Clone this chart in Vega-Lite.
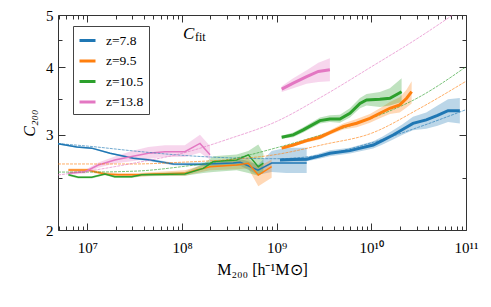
{
  "$schema": "https://vega.github.io/schema/vega-lite/v6.json",
  "width": 408,
  "height": 215,
  "autosize": {"type": "none"},
  "padding": {"left": 58, "top": 15, "right": 25, "bottom": 77},
  "background": "white",
  "config": {
    "view": {"stroke": null},
    "font": "Liberation Serif",
    "axis": {"grid": false, "domainColor": "#333", "domainWidth": 1, "tickColor": "#333", "tickWidth": 1,
      "labelFont": "Liberation Serif", "labelFontSize": 15, "labelColor": "#000",
      "titleFont": "Liberation Serif", "titleFontSize": 16, "titleFontWeight": "normal", "titleColor": "#000",
      "labelFlush": false, "labelOverlap": false, "labelBound": false}
  },
  "resolve": {"axis": {"x": "independent", "y": "independent"}},
  "datasets": {
    "curves": [
      {"z":"z=7.8","s":"thin","M":4.90e6,"C":2.89,"lo":2.88,"hi":2.90},
      {"z":"z=7.8","s":"thin","M":7.73e6,"C":2.85,"lo":2.84,"hi":2.86},
      {"z":"z=7.8","s":"thin","M":1.112e7,"C":2.835,"lo":2.825,"hi":2.845},
      {"z":"z=7.8","s":"thin","M":1.738e7,"C":2.774,"lo":2.764,"hi":2.784},
      {"z":"z=7.8","s":"thin","M":3.062e7,"C":2.716,"lo":2.704,"hi":2.728},
      {"z":"z=7.8","s":"thin","M":4.592e7,"C":2.696,"lo":2.681,"hi":2.711},
      {"z":"z=7.8","s":"thin","M":8.091e7,"C":2.65,"lo":2.635,"hi":2.665},
      {"z":"z=7.8","s":"thin","M":1.549e8,"C":2.648,"lo":2.628,"hi":2.668},
      {"z":"z=7.8","s":"thin","M":3.467e8,"C":2.66,"lo":2.63,"hi":2.69},
      {"z":"z=7.8","s":"thin","M":4.121e8,"C":2.67,"lo":2.63,"hi":2.71},
      {"z":"z=7.8","s":"thin","M":6.353e8,"C":2.582,"lo":2.53,"hi":2.64},
      {"z":"z=7.8","s":"thin","M":8.851e8,"C":2.66,"lo":2.56,"hi":2.80},
      {"z":"z=7.8","s":"thin","M":1.259e9,"C":2.66,"lo":2.55,"hi":2.84},
      {"z":"z=7.8","s":"thin","M":2.075e9,"C":2.66,"lo":2.55,"hi":2.84},
      {"z":"z=7.8","s":"thick","M":1.084e9,"C":2.696,"lo":2.68,"hi":2.71},
      {"z":"z=7.8","s":"thick","M":1.496e9,"C":2.70,"lo":2.68,"hi":2.72},
      {"z":"z=7.8","s":"thick","M":2.075e9,"C":2.704,"lo":2.68,"hi":2.73},
      {"z":"z=7.8","s":"thick","M":2.818e9,"C":2.74,"lo":2.71,"hi":2.77},
      {"z":"z=7.8","s":"thick","M":3.65e9,"C":2.774,"lo":2.74,"hi":2.81},
      {"z":"z=7.8","s":"thick","M":5.94e9,"C":2.805,"lo":2.77,"hi":2.84},
      {"z":"z=7.8","s":"thick","M":1.047e10,"C":2.873,"lo":2.83,"hi":2.92},
      {"z":"z=7.8","s":"thick","M":1.318e10,"C":2.93,"lo":2.88,"hi":2.98},
      {"z":"z=7.8","s":"thick","M":1.698e10,"C":2.998,"lo":2.94,"hi":3.06},
      {"z":"z=7.8","s":"thick","M":2.138e10,"C":3.07,"lo":3.00,"hi":3.14},
      {"z":"z=7.8","s":"thick","M":2.754e10,"C":3.15,"lo":3.06,"hi":3.24},
      {"z":"z=7.8","s":"thick","M":3.802e10,"C":3.197,"lo":3.08,"hi":3.30},
      {"z":"z=7.8","s":"thick","M":5.012e10,"C":3.26,"lo":3.12,"hi":3.40},
      {"z":"z=7.8","s":"thick","M":6.457e10,"C":3.326,"lo":3.17,"hi":3.49},
      {"z":"z=7.8","s":"thick","M":8.61e10,"C":3.326,"lo":3.15,"hi":3.51},
      {"z":"z=9.5","s":"thin","M":6.31e6,"C":2.582,"lo":2.565,"hi":2.60},
      {"z":"z=9.5","s":"thin","M":1.023e7,"C":2.582,"lo":2.565,"hi":2.60},
      {"z":"z=9.5","s":"thin","M":1.202e7,"C":2.564,"lo":2.547,"hi":2.581},
      {"z":"z=9.5","s":"thin","M":1.549e7,"C":2.54,"lo":2.522,"hi":2.558},
      {"z":"z=9.5","s":"thin","M":2.138e7,"C":2.53,"lo":2.51,"hi":2.55},
      {"z":"z=9.5","s":"thin","M":3.467e7,"C":2.53,"lo":2.51,"hi":2.55},
      {"z":"z=9.5","s":"thin","M":5.129e7,"C":2.54,"lo":2.52,"hi":2.56},
      {"z":"z=9.5","s":"thin","M":1.072e8,"C":2.546,"lo":2.52,"hi":2.58},
      {"z":"z=9.5","s":"thin","M":1.429e8,"C":2.582,"lo":2.55,"hi":2.62},
      {"z":"z=9.5","s":"thin","M":1.977e8,"C":2.619,"lo":2.58,"hi":2.66},
      {"z":"z=9.5","s":"thin","M":3.784e8,"C":2.638,"lo":2.59,"hi":2.69},
      {"z":"z=9.5","s":"thin","M":5.012e8,"C":2.657,"lo":2.60,"hi":2.71},
      {"z":"z=9.5","s":"thin","M":6.397e8,"C":2.528,"lo":2.41,"hi":2.62},
      {"z":"z=9.5","s":"thin","M":8.851e8,"C":2.619,"lo":2.50,"hi":2.70},
      {"z":"z=9.5","s":"thick","M":1.13e9,"C":2.835,"lo":2.82,"hi":2.85},
      {"z":"z=9.5","s":"thick","M":1.496e9,"C":2.873,"lo":2.855,"hi":2.89},
      {"z":"z=9.5","s":"thick","M":2.075e9,"C":2.927,"lo":2.905,"hi":2.95},
      {"z":"z=9.5","s":"thick","M":2.864e9,"C":2.97,"lo":2.94,"hi":3.0},
      {"z":"z=9.5","s":"thick","M":3.65e9,"C":3.029,"lo":3.0,"hi":3.06},
      {"z":"z=9.5","s":"thick","M":5.047e9,"C":3.107,"lo":3.07,"hi":3.15},
      {"z":"z=9.5","s":"thick","M":7.0e9,"C":3.152,"lo":3.10,"hi":3.21},
      {"z":"z=9.5","s":"thick","M":9.66e9,"C":3.219,"lo":3.16,"hi":3.28},
      {"z":"z=9.5","s":"thick","M":1.23e10,"C":3.289,"lo":3.22,"hi":3.36},
      {"z":"z=9.5","s":"thick","M":1.57e10,"C":3.36,"lo":3.28,"hi":3.45},
      {"z":"z=9.5","s":"thick","M":1.995e10,"C":3.408,"lo":3.30,"hi":3.52},
      {"z":"z=9.5","s":"thick","M":2.36e10,"C":3.507,"lo":3.37,"hi":3.64},
      {"z":"z=9.5","s":"thick","M":2.667e10,"C":3.606,"lo":3.43,"hi":3.77},
      {"z":"z=10.5","s":"thin","M":6.31e6,"C":2.53,"lo":2.518,"hi":2.542},
      {"z":"z=10.5","s":"thin","M":8.04e6,"C":2.504,"lo":2.492,"hi":2.516},
      {"z":"z=10.5","s":"thin","M":1.112e7,"C":2.504,"lo":2.492,"hi":2.516},
      {"z":"z=10.5","s":"thin","M":1.538e7,"C":2.54,"lo":2.528,"hi":2.552},
      {"z":"z=10.5","s":"thin","M":1.95e7,"C":2.51,"lo":2.497,"hi":2.523},
      {"z":"z=10.5","s":"thin","M":2.944e7,"C":2.51,"lo":2.497,"hi":2.523},
      {"z":"z=10.5","s":"thin","M":3.75e7,"C":2.53,"lo":2.515,"hi":2.545},
      {"z":"z=10.5","s":"thin","M":1.072e8,"C":2.54,"lo":2.52,"hi":2.56},
      {"z":"z=10.5","s":"thin","M":1.679e8,"C":2.601,"lo":2.55,"hi":2.65},
      {"z":"z=10.5","s":"thin","M":2.138e8,"C":2.677,"lo":2.56,"hi":2.74},
      {"z":"z=10.5","s":"thin","M":3.784e8,"C":2.696,"lo":2.58,"hi":2.76},
      {"z":"z=10.5","s":"thin","M":5.012e8,"C":2.755,"lo":2.55,"hi":2.80},
      {"z":"z=10.5","s":"thin","M":6.397e8,"C":2.619,"lo":2.52,"hi":2.88},
      {"z":"z=10.5","s":"thin","M":7.244e8,"C":2.66,"lo":2.55,"hi":2.77},
      {"z":"z=10.5","s":"thick","M":1.13e9,"C":2.97,"lo":2.95,"hi":2.99},
      {"z":"z=10.5","s":"thick","M":1.496e9,"C":3.0,"lo":2.97,"hi":3.03},
      {"z":"z=10.5","s":"thick","M":1.91e9,"C":3.064,"lo":3.03,"hi":3.10},
      {"z":"z=10.5","s":"thick","M":2.864e9,"C":3.188,"lo":3.15,"hi":3.23},
      {"z":"z=10.5","s":"thick","M":3.65e9,"C":3.21,"lo":3.17,"hi":3.26},
      {"z":"z=10.5","s":"thick","M":4.656e9,"C":3.21,"lo":3.16,"hi":3.27},
      {"z":"z=10.5","s":"thick","M":5.94e9,"C":3.29,"lo":3.23,"hi":3.36},
      {"z":"z=10.5","s":"thick","M":7.586e9,"C":3.43,"lo":3.36,"hi":3.51},
      {"z":"z=10.5","s":"thick","M":8.913e9,"C":3.48,"lo":3.40,"hi":3.57},
      {"z":"z=10.5","s":"thick","M":1.23e10,"C":3.49,"lo":3.38,"hi":3.60},
      {"z":"z=10.5","s":"thick","M":1.57e10,"C":3.507,"lo":3.40,"hi":3.66},
      {"z":"z=10.5","s":"thick","M":2.089e10,"C":3.606,"lo":3.45,"hi":3.82},
      {"z":"z=13.8","s":"thin","M":6.31e6,"C":2.546,"lo":2.531,"hi":2.561},
      {"z":"z=13.8","s":"thin","M":9.46e6,"C":2.564,"lo":2.544,"hi":2.584},
      {"z":"z=13.8","s":"thin","M":1.306e7,"C":2.638,"lo":2.608,"hi":2.668},
      {"z":"z=13.8","s":"thin","M":1.95e7,"C":2.696,"lo":2.656,"hi":2.736},
      {"z":"z=13.8","s":"thin","M":2.944e7,"C":2.735,"lo":2.68,"hi":2.80},
      {"z":"z=13.8","s":"thin","M":4.406e7,"C":2.774,"lo":2.71,"hi":2.85},
      {"z":"z=13.8","s":"thin","M":6.607e7,"C":2.793,"lo":2.73,"hi":2.87},
      {"z":"z=13.8","s":"thin","M":1.072e8,"C":2.793,"lo":2.73,"hi":2.87},
      {"z":"z=13.8","s":"thin","M":1.549e8,"C":2.893,"lo":2.78,"hi":3.0},
      {"z":"z=13.8","s":"thin","M":1.977e8,"C":2.755,"lo":2.70,"hi":2.86},
      {"z":"z=13.8","s":"thick","M":1.13e9,"C":3.645,"lo":3.60,"hi":3.69},
      {"z":"z=13.8","s":"thick","M":1.496e9,"C":3.74,"lo":3.66,"hi":3.82},
      {"z":"z=13.8","s":"thick","M":2.075e9,"C":3.845,"lo":3.73,"hi":3.95},
      {"z":"z=13.8","s":"thick","M":2.754e9,"C":3.93,"lo":3.76,"hi":4.08},
      {"z":"z=13.8","s":"thick","M":3.65e9,"C":3.96,"lo":3.77,"hi":4.16},
      {"z":"z=7.8","s":"fit","M":4.9e6,"C":2.89},
      {"z":"z=7.8","s":"fit","M":1e7,"C":2.86},
      {"z":"z=7.8","s":"fit","M":3.16e7,"C":2.80},
      {"z":"z=7.8","s":"fit","M":1e8,"C":2.75},
      {"z":"z=7.8","s":"fit","M":3.16e8,"C":2.72},
      {"z":"z=7.8","s":"fit","M":1e9,"C":2.71},
      {"z":"z=7.8","s":"fit","M":3.16e9,"C":2.76},
      {"z":"z=7.8","s":"fit","M":1e10,"C":2.90},
      {"z":"z=7.8","s":"fit","M":3.16e10,"C":3.10},
      {"z":"z=7.8","s":"fit","M":1e11,"C":3.34},
      {"z":"z=9.5","s":"fit","M":4.9e6,"C":2.65},
      {"z":"z=9.5","s":"fit","M":1e7,"C":2.65},
      {"z":"z=9.5","s":"fit","M":3.16e7,"C":2.65},
      {"z":"z=9.5","s":"fit","M":1e8,"C":2.67},
      {"z":"z=9.5","s":"fit","M":3.16e8,"C":2.70},
      {"z":"z=9.5","s":"fit","M":1e9,"C":2.76},
      {"z":"z=9.5","s":"fit","M":3.16e9,"C":2.88},
      {"z":"z=9.5","s":"fit","M":1e10,"C":3.02},
      {"z":"z=9.5","s":"fit","M":3.16e10,"C":3.35},
      {"z":"z=9.5","s":"fit","M":1e11,"C":3.77},
      {"z":"z=10.5","s":"fit","M":4.9e6,"C":2.56},
      {"z":"z=10.5","s":"fit","M":1e7,"C":2.56},
      {"z":"z=10.5","s":"fit","M":3.16e7,"C":2.57},
      {"z":"z=10.5","s":"fit","M":1e8,"C":2.62},
      {"z":"z=10.5","s":"fit","M":3.16e8,"C":2.70},
      {"z":"z=10.5","s":"fit","M":1e9,"C":2.84},
      {"z":"z=10.5","s":"fit","M":3.16e9,"C":3.01},
      {"z":"z=10.5","s":"fit","M":1e10,"C":3.22},
      {"z":"z=10.5","s":"fit","M":3.16e10,"C":3.52},
      {"z":"z=10.5","s":"fit","M":1e11,"C":4.01},
      {"z":"z=13.8","s":"fit","M":4.9e6,"C":2.529},
      {"z":"z=13.8","s":"fit","M":1e7,"C":2.57},
      {"z":"z=13.8","s":"fit","M":3.16e7,"C":2.661},
      {"z":"z=13.8","s":"fit","M":1e8,"C":2.773},
      {"z":"z=13.8","s":"fit","M":3.16e8,"C":2.951},
      {"z":"z=13.8","s":"fit","M":1e9,"C":3.177},
      {"z":"z=13.8","s":"fit","M":3.16e9,"C":3.548},
      {"z":"z=13.8","s":"fit","M":1e10,"C":4.009},
      {"z":"z=13.8","s":"fit","M":3.16e10,"C":4.539},
      {"z":"z=13.8","s":"fit","M":7.24e10,"C":5.0}
    ],
    "labels": [
      {"part":"C","M":1.025e8,"C":4.516},
      {"part":"fit","M":1.371e8,"C":4.468}
    ]
  },
  "layer": [
    {
      "data": {"name": "curves"},
      "transform": [{"filter": "datum.s == 'thin'"}],
      "mark": {"type": "area", "opacity": 0.3, "clip": true},
      "encoding": {
        "x": {"field": "M", "type": "quantitative", "scale": {"type": "log", "domain": [4.9e6, 1e11], "nice": false},
          "axis": {"orient": "bottom", "values": [1e7,1e8,1e9,1e10,1e11], "domain": false, "ticks": false, "tickSize": 0,
            "labelExpr": "datum.value == 1e7 ? '10⁷' : datum.value == 1e8 ? '10⁸' : datum.value == 1e9 ? '10⁹' : datum.value == 1e10 ? '10¹⁰' : '10¹¹'",
            "labelPadding": 10, "title": "M₂₀₀ [h⁻¹M⊙]", "titlePadding": 6}},
        "y": {"field": "lo", "type": "quantitative", "scale": {"type": "log", "domain": [2, 5], "nice": false},
          "axis": {"orient": "left", "values": [2,3,4,5], "domain": false, "ticks": false, "tickSize": 0,
            "labelExpr": "format(datum.value, 'd')",
            "labelPadding": 5, "title": "C₂₀₀", "titleFontStyle": "italic", "titlePadding": 8}},
        "y2": {"field": "hi"},
        "fill": {"field": "z", "type": "nominal", "scale": {"domain": ["z=13.8","z=10.5","z=9.5","z=7.8"], "range": ["#e377c2","#2ca02c","#ff7f0e","#1f77b4"]}, "legend": null}
      }
    },
    {
      "data": {"name": "curves"},
      "transform": [{"filter": "datum.s == 'thick'"}],
      "mark": {"type": "area", "opacity": 0.3, "clip": true},
      "encoding": {
        "x": {"field": "M", "type": "quantitative", "scale": {"type": "log", "domain": [4.9e6, 1e11], "nice": false},
          "axis": {"orient": "bottom", "values": [5e6,6e6,7e6,8e6,9e6,1e7,2e7,3e7,4e7,5e7,6e7,7e7,8e7,9e7,1e8,2e8,3e8,4e8,5e8,6e8,7e8,8e8,9e8,1e9,2e9,3e9,4e9,5e9,6e9,7e9,8e9,9e9,1e10,2e10,3e10,4e10,5e10,6e10,7e10,8e10,9e10,1e11],
            "labels": false,
            "tickSize": {"condition": {"test": "indexof([1e7,1e8,1e9,1e10,1e11], datum.value) >= 0", "value": -7}, "value": -4},
            "title": null}},
        "y": {"field": "lo", "type": "quantitative", "scale": {"type": "log", "domain": [2, 5], "nice": false},
          "axis": {"orient": "left", "values": [2,2.5,3,3.5,4,4.5,5], "labels": false,
            "tickSize": {"condition": {"test": "datum.value % 1 == 0", "value": -7}, "value": -4},
            "title": null}},
        "y2": {"field": "hi"},
        "fill": {"field": "z", "type": "nominal", "scale": {"domain": ["z=13.8","z=10.5","z=9.5","z=7.8"], "range": ["#e377c2","#2ca02c","#ff7f0e","#1f77b4"]}, "legend": null}
      }
    },
    {
      "data": {"name": "curves"},
      "transform": [{"filter": "datum.s == 'thin'"}],
      "mark": {"type": "line", "strokeWidth": 1.5, "clip": true},
      "encoding": {
        "x": {"field": "M", "type": "quantitative", "scale": {"type": "log", "domain": [4.9e6, 1e11], "nice": false},
          "axis": {"orient": "top", "values": [5e6,6e6,7e6,8e6,9e6,1e7,2e7,3e7,4e7,5e7,6e7,7e7,8e7,9e7,1e8,2e8,3e8,4e8,5e8,6e8,7e8,8e8,9e8,1e9,2e9,3e9,4e9,5e9,6e9,7e9,8e9,9e9,1e10,2e10,3e10,4e10,5e10,6e10,7e10,8e10,9e10,1e11],
            "labels": false,
            "tickSize": {"condition": {"test": "indexof([1e7,1e8,1e9,1e10,1e11], datum.value) >= 0", "value": -7}, "value": -4},
            "title": null}},
        "y": {"field": "C", "type": "quantitative", "scale": {"type": "log", "domain": [2, 5], "nice": false},
          "axis": {"orient": "right", "values": [2,2.5,3,3.5,4,4.5,5], "labels": false,
            "tickSize": {"condition": {"test": "datum.value % 1 == 0", "value": -7}, "value": -4},
            "title": null}},
        "color": {"field": "z", "type": "nominal", "scale": {"domain": ["z=7.8","z=9.5","z=10.5","z=13.8"], "range": ["#1f77b4","#ff7f0e","#2ca02c","#e377c2"]},
          "legend": {"title": null, "orient": "none", "legendX": 15, "legendY": 11, "symbolType": "stroke", "symbolStrokeWidth": 3, "symbolSize": 256, "symbolOpacity": 1,
            "labelFont": "Liberation Serif", "labelFontSize": 13.5, "labelColor": "#000", "labelOffset": 9, "rowPadding": 4.5, "padding": 5,
            "strokeColor": "#444", "fillColor": "white", "cornerRadius": 0}}
      }
    },
    {
      "data": {"name": "curves"},
      "transform": [{"filter": "datum.s == 'fit'"}],
      "mark": {"type": "line", "strokeWidth": 0.9, "opacity": 0.7, "strokeDash": [3, 1], "interpolate": "monotone", "clip": true},
      "encoding": {
        "x": {"field": "M", "type": "quantitative", "scale": {"type": "log", "domain": [4.9e6, 1e11], "nice": false}, "axis": null},
        "y": {"field": "C", "type": "quantitative", "scale": {"type": "log", "domain": [2, 5], "nice": false}, "axis": null},
        "stroke": {"field": "z", "type": "nominal", "scale": {"domain": ["z=13.8","z=10.5","z=9.5","z=7.8"], "range": ["#e377c2","#2ca02c","#ff7f0e","#1f77b4"]}, "legend": null}
      }
    },
    {
      "data": {"name": "curves"},
      "transform": [{"filter": "datum.s == 'thick'"}],
      "mark": {"type": "line", "strokeWidth": 3, "clip": true},
      "encoding": {
        "x": {"field": "M", "type": "quantitative", "scale": {"type": "log", "domain": [4.9e6, 1e11], "nice": false}, "axis": null},
        "y": {"field": "C", "type": "quantitative", "scale": {"type": "log", "domain": [2, 5], "nice": false}, "axis": null},
        "color": {"field": "z", "type": "nominal", "scale": {"domain": ["z=7.8","z=9.5","z=10.5","z=13.8"], "range": ["#1f77b4","#ff7f0e","#2ca02c","#e377c2"]}}
      }
    },
    {
      "data": {"name": "labels"},
      "transform": [{"filter": "datum.part == 'C'"}],
      "mark": {"type": "text", "font": "Liberation Serif", "fontStyle": "italic", "fontSize": 17, "align": "left", "baseline": "alphabetic", "color": "#000"},
      "encoding": {
        "x": {"field": "M", "type": "quantitative", "scale": {"type": "log", "domain": [4.9e6, 1e11], "nice": false}, "axis": null},
        "y": {"field": "C", "type": "quantitative", "scale": {"type": "log", "domain": [2, 5], "nice": false}, "axis": null},
        "text": {"field": "part"}
      }
    },
    {
      "data": {"name": "labels"},
      "transform": [{"filter": "datum.part == 'fit'"}],
      "mark": {"type": "text", "font": "Liberation Serif", "fontSize": 12, "align": "left", "baseline": "alphabetic", "color": "#000"},
      "encoding": {
        "x": {"field": "M", "type": "quantitative", "scale": {"type": "log", "domain": [4.9e6, 1e11], "nice": false}, "axis": null},
        "y": {"field": "C", "type": "quantitative", "scale": {"type": "log", "domain": [2, 5], "nice": false}, "axis": null},
        "text": {"field": "part"}
      }
    }
  ]
}
